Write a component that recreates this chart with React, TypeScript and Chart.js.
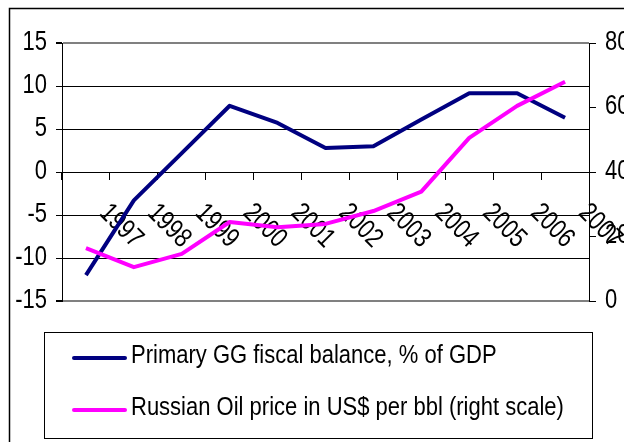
import { useEffect, useRef } from "react";
import { Chart, registerables } from "chart.js";

Chart.register(...registerables);

const years = ["1997", "1998", "1999", "2000", "2001", "2002", "2003", "2004", "2005", "2006", "2007"];
const fiscalBalance = [-12.0, -3.3, 2.2, 7.7, 5.7, 2.8, 3.0, 6.1, 9.15, 9.15, 6.3];
const oilPrice = [16.4, 10.5, 14.6, 24.5, 22.9, 23.9, 27.9, 33.9, 50.6, 60.5, 68.0];
const seriesLabels = [
  "Primary GG fiscal balance, % of GDP",
  "Russian Oil price in US$ per bbl (right scale)",
];
const seriesColors = ["#000080", "#FF00FF"];
const leftRange = [-15, 15, 5];
const rightRange = [0, 80, 20];

const FONT = '"Liberation Sans", Arial, sans-serif';

// draws text stretched vertically (the reference text is taller than it is wide)
function stretchedText(
  ctx: CanvasRenderingContext2D,
  text: string,
  x: number,
  y: number,
  align: CanvasTextAlign,
  size: number,
  sy: number,
  rotation = 0
) {
  ctx.save();
  ctx.translate(x, y);
  if (rotation) ctx.rotate(rotation);
  ctx.scale(1, sy);
  ctx.font = `${size}px ${FONT}`;
  ctx.fillStyle = "#000000";
  ctx.textAlign = align;
  ctx.textBaseline = "middle";
  ctx.fillText(text, 0, 0);
  ctx.restore();
}

const decorPlugin = {
  id: "decor",
  beforeDraw(chart: any) {
    const ctx = chart.ctx;
    ctx.save();
    ctx.fillStyle = "#ffffff";
    ctx.fillRect(0, 0, chart.width, chart.height);
    ctx.strokeStyle = "#000000";
    ctx.lineWidth = 1.5;
    ctx.beginPath();
    ctx.moveTo(chart.width + 5, 8.5);
    ctx.lineTo(9.5, 8.5);
    ctx.lineTo(9.5, chart.height + 5);
    ctx.stroke();
    ctx.restore();
  },
  beforeDatasetsDraw(chart: any) {
    const ctx = chart.ctx;
    const xs = chart.scales.x;
    const ys = chart.scales.y;
    const y1s = chart.scales.y1;
    const y0 = ys.getPixelForValue(0);
    // rotated category labels next to the zero axis
    years.forEach((label, i) => {
      const px = xs.getPixelForValue(i) + 35;
      stretchedText(ctx, label, px, y0 + 54, "center", 22, 1.25, Math.PI / 4);
    });
    // left axis labels
    ys.ticks.forEach((t: any) => {
      const py = ys.getPixelForValue(t.value);
      stretchedText(ctx, String(t.value), ys.right - 15, py - 1, "right", 22, 1.27);
    });
    // right axis labels
    y1s.ticks.forEach((t: any) => {
      const py = y1s.getPixelForValue(t.value);
      stretchedText(ctx, String(t.value), y1s.left + 16, py - 1, "left", 22, 1.27);
    });
  },
  afterDraw(chart: any) {
    const ctx = chart.ctx;
    ctx.save();
    ctx.strokeStyle = "#000000";
    ctx.lineWidth = 1;
    ctx.strokeRect(44.5, 332.5, 548, 106);
    const mids = [356, 408];
    seriesLabels.forEach((label, i) => {
      const ly = mids[i] + 2;
      ctx.strokeStyle = seriesColors[i];
      ctx.lineWidth = 4;
      ctx.lineCap = "round";
      ctx.beginPath();
      ctx.moveTo(74, ly);
      ctx.lineTo(125, ly);
      ctx.stroke();
      stretchedText(ctx, label, 131, mids[i], "left", 22, 1.16);
    });
    ctx.restore();
  },
};

export default function App() {
  const canvasRef = useRef<HTMLCanvasElement | null>(null);

  useEffect(() => {
    if (!canvasRef.current) return;
    const chart = new Chart(canvasRef.current, {
      type: "line",
      data: {
        labels: years,
        datasets: [
          {
            label: seriesLabels[0],
            data: fiscalBalance,
            borderColor: seriesColors[0],
            backgroundColor: seriesColors[0],
            borderWidth: 4,
            pointRadius: 0,
            tension: 0,
            fill: false,
            yAxisID: "y",
            order: 1,
            borderJoinStyle: "round",
          },
          {
            label: seriesLabels[1],
            data: oilPrice,
            borderColor: seriesColors[1],
            backgroundColor: seriesColors[1],
            borderWidth: 4,
            pointRadius: 0,
            tension: 0,
            fill: false,
            yAxisID: "y1",
            order: 0,
            borderJoinStyle: "round",
          },
        ],
      },
      options: {
        animation: false,
        responsive: false,
        maintainAspectRatio: false,
        events: [],
        layout: { padding: { top: 43, bottom: 141, left: 0, right: 0 } },
        plugins: {
          legend: { display: false },
          tooltip: { enabled: false },
          title: { display: false },
        },
        scales: {
          x: {
            type: "category",
            position: { y: 0 } as any,
            offset: true,
            ticks: { display: false },
            grid: {
              offset: true,
              drawOnChartArea: false,
              drawTicks: true,
              tickLength: 7,
              color: "#000000",
            },
            border: { display: true, color: "#000000", width: 1 },
          },
          y: {
            position: "left",
            min: leftRange[0],
            max: leftRange[1],
            ticks: { stepSize: leftRange[2], display: false },
            grid: {
              color: (c: any) =>
                c.tick && (c.tick.value === leftRange[0] || c.tick.value === leftRange[1]) ? "#808080" : "#000000",
              lineWidth: (c: any) =>
                c.tick && (c.tick.value === leftRange[0] || c.tick.value === leftRange[1]) ? 2 : 1,
              tickColor: "#000000",
              tickLength: 6,
            },
            border: { display: true, color: "#000000", width: 1 },
            afterFit: (s: any) => {
              s.width = 62;
            },
          },
          y1: {
            position: "right",
            min: rightRange[0],
            max: rightRange[1],
            ticks: { stepSize: rightRange[2], display: false },
            grid: {
              drawOnChartArea: false,
              drawTicks: true,
              tickLength: 7,
              color: "#000000",
              tickColor: "#000000",
            },
            border: { display: true, color: "#000000", width: 1 },
            afterFit: (s: any) => {
              s.width = 35;
            },
          },
        },
      },
      plugins: [decorPlugin],
    });
    return () => chart.destroy();
  }, []);

  return (
    <div
      style={{
        position: "fixed",
        left: 0,
        top: 0,
        width: 624,
        height: 442,
        overflow: "hidden",
        background: "#ffffff",
      }}
    >
      <canvas ref={canvasRef} width={624} height={442} style={{ display: "block" }} />
    </div>
  );
}
